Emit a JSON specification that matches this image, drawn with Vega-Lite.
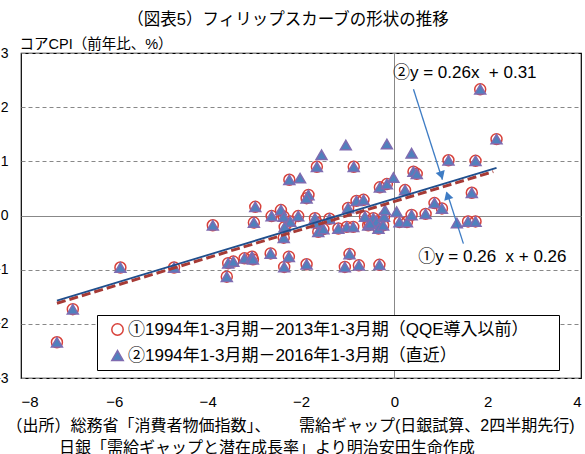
{
  "$schema": "https://vega.github.io/schema/vega-lite/v6.json",
  "width": 560,
  "height": 325,
  "autosize": {"type": "none"},
  "padding": {"left": 21, "top": 53, "right": 4, "bottom": 76},
  "background": "white",
  "config": {
    "font": "Liberation Sans, Noto Sans CJK JP",
    "view": {"stroke": "black", "strokeWidth": 1.2},
    "legend": {"symbolStrokeWidth": 1.5}
  },
  "title": {
    "text": "（図表5）フィリップスカーブの形状の推移",
    "fontSize": 16.5,
    "fontWeight": "normal",
    "color": "black",
    "anchor": "middle",
    "frame": "group",
    "dx": -13,
    "offset": 8
  },
  "encoding": {
    "x": {
      "field": "x",
      "type": "quantitative",
      "scale": {"domain": [-8, 4], "nice": false, "zero": false},
      "axis": {
        "values": [-8, -6, -4, -2, 0, 2, 4],
        "ticks": false,
        "domain": false,
        "labelFontSize": 15,
        "labelColor": "black",
        "labelPadding": 16,
        "grid": true,
        "gridColor": "#888888",
        "gridOpacity": {"condition": {"test": "datum.value === 0", "value": 1}, "value": 0},
        "title": ["（出所）総務省「消費者物価指数」、　　 需給ギャップ(日銀試算、2四半期先行)", "\u200b　　　 日銀「需給ギャップと潜在成長率」より明治安田生命作成"],
        "titleFontSize": 16,
        "titleFontWeight": "normal",
        "titleColor": "black",
        "titleAnchor": "start",
        "titleAlign": "left",
        "titleBaseline": "top",
        "titleX": -15,
        "titleY": 39,
        "titleLineHeight": 22
      }
    },
    "y": {
      "field": "y",
      "type": "quantitative",
      "scale": {"domain": [-3, 3], "nice": false, "zero": false},
      "axis": {
        "values": [-3, -2, -1, 0, 1, 2, 3],
        "ticks": false,
        "domain": false,
        "labelFontSize": 14,
        "labelColor": "black",
        "labelPadding": 13,
        "grid": true,
        "gridColor": "#888888",
        "gridDash": {"condition": {"test": "datum.value === 0", "value": []}, "value": [4, 3]},
        "title": "コアCPI（前年比、%）",
        "titleAngle": 0,
        "titleAlign": "left",
        "titleBaseline": "middle",
        "titleX": -2,
        "titleY": -9,
        "titleFontSize": 14.5,
        "titleFontWeight": "normal",
        "titleColor": "black"
      }
    }
  },
  "layer": [
    {
      "data": {"values": [
        {"s":"1","x":-7.23,"y":-2.34},{"s":"1","x":-6.89,"y":-1.73},{"s":"1","x":-5.87,"y":-0.96},{"s":"1","x":-4.72,"y":-0.96},
        {"s":"1","x":-3.89,"y":-0.18},{"s":"1","x":-3.59,"y":-1.13},{"s":"1","x":-3.56,"y":-0.88},{"s":"1","x":-3.45,"y":-0.85},
        {"s":"1","x":-3.21,"y":-0.79},{"s":"1","x":-3.05,"y":-0.76},{"s":"1","x":-3.03,"y":-0.81},{"s":"1","x":-2.98,"y":0.16},
        {"s":"1","x":-3.01,"y":-0.13},{"s":"1","x":-2.65,"y":-0.70},{"s":"1","x":-2.63,"y":-0.01},{"s":"1","x":-2.43,"y":0.10},
        {"s":"1","x":-2.37,"y":-0.02},{"s":"1","x":-2.23,"y":-0.11},{"s":"1","x":-2.35,"y":-0.21},{"s":"1","x":-2.37,"y":-0.41},
        {"s":"1","x":-2.26,"y":-0.76},{"s":"1","x":-2.36,"y":-0.95},{"s":"1","x":-2.25,"y":0.66},{"s":"1","x":-2.06,"y":-0.01},
        {"s":"1","x":-1.88,"y":-0.90},{"s":"1","x":-1.84,"y":0.38},{"s":"1","x":-1.88,"y":0.32},{"s":"1","x":-1.70,"y":-0.05},
        {"s":"1","x":-1.65,"y":-0.14},{"s":"1","x":-1.63,"y":-0.30},{"s":"1","x":-1.52,"y":-0.25},{"s":"1","x":-1.66,"y":0.90},
        {"s":"1","x":-1.39,"y":-0.06},{"s":"1","x":-1.20,"y":-0.24},{"s":"1","x":-1.02,"y":-0.21},{"s":"1","x":-0.99,"y":0.14},
        {"s":"1","x":-0.96,"y":-0.71},{"s":"1","x":-1.06,"y":-0.95},{"s":"1","x":-0.87,"y":0.90},{"s":"1","x":-0.88,"y":-0.21},
        {"s":"1","x":-0.81,"y":0.27},{"s":"1","x":-0.76,"y":-0.92},{"s":"1","x":-0.66,"y":0.29},{"s":"1","x":-0.63,"y":-0.02},
        {"s":"1","x":-0.56,"y":-0.18},{"s":"1","x":-0.45,"y":-0.05},{"s":"1","x":-0.38,"y":-0.11},{"s":"1","x":-0.34,"y":-0.24},
        {"s":"1","x":-0.32,"y":-0.91},{"s":"1","x":-0.31,"y":0.52},{"s":"1","x":-0.16,"y":0.58},{"s":"1","x":-0.22,"y":-0.02},
        {"s":"1","x":-0.52,"y":-0.15},{"s":"1","x":-0.24,"y":-0.18},
        {"s":"1","x":0.11,"y":-0.12},{"s":"1","x":0.27,"y":-0.12},{"s":"1","x":0.23,"y":0.47},{"s":"1","x":0.41,"y":0.81},
        {"s":"1","x":0.48,"y":0.77},{"s":"1","x":0.37,"y":0.01},{"s":"1","x":0.67,"y":0.03},{"s":"1","x":0.86,"y":0.23},
        {"s":"1","x":1.02,"y":0.13},{"s":"1","x":1.16,"y":1.02},{"s":"1","x":1.58,"y":-0.11},{"s":"1","x":1.74,"y":-0.11},
        {"s":"1","x":1.66,"y":0.42},{"s":"1","x":1.74,"y":1.01},{"s":"1","x":1.84,"y":2.33},{"s":"1","x":2.19,"y":1.41},
        {"s":"2","x":-7.23,"y":-2.34},{"s":"2","x":-6.89,"y":-1.73},{"s":"2","x":-5.87,"y":-0.96},{"s":"2","x":-4.72,"y":-0.96},
        {"s":"2","x":-3.89,"y":-0.18},{"s":"2","x":-3.59,"y":-1.13},{"s":"2","x":-3.56,"y":-0.88},{"s":"2","x":-3.45,"y":-0.85},
        {"s":"2","x":-3.21,"y":-0.79},{"s":"2","x":-3.05,"y":-0.76},{"s":"2","x":-3.03,"y":-0.81},{"s":"2","x":-2.98,"y":0.16},
        {"s":"2","x":-3.01,"y":-0.13},{"s":"2","x":-2.65,"y":-0.70},{"s":"2","x":-2.63,"y":-0.01},{"s":"2","x":-2.43,"y":0.10},
        {"s":"2","x":-2.37,"y":-0.02},{"s":"2","x":-2.23,"y":-0.11},{"s":"2","x":-2.35,"y":-0.21},{"s":"2","x":-2.37,"y":-0.41},
        {"s":"2","x":-2.26,"y":-0.76},{"s":"2","x":-2.36,"y":-0.95},{"s":"2","x":-2.25,"y":0.66},{"s":"2","x":-2.06,"y":-0.01},
        {"s":"2","x":-1.88,"y":-0.90},{"s":"2","x":-1.84,"y":0.38},{"s":"2","x":-1.88,"y":0.32},{"s":"2","x":-1.70,"y":-0.05},
        {"s":"2","x":-1.65,"y":-0.14},{"s":"2","x":-1.63,"y":-0.30},{"s":"2","x":-1.52,"y":-0.25},{"s":"2","x":-1.66,"y":0.90},
        {"s":"2","x":-1.39,"y":-0.06},{"s":"2","x":-1.20,"y":-0.24},{"s":"2","x":-1.02,"y":-0.21},{"s":"2","x":-0.99,"y":0.14},
        {"s":"2","x":-0.96,"y":-0.71},{"s":"2","x":-1.06,"y":-0.95},{"s":"2","x":-0.87,"y":0.90},{"s":"2","x":-0.88,"y":-0.21},
        {"s":"2","x":-0.81,"y":0.27},{"s":"2","x":-0.76,"y":-0.92},{"s":"2","x":-0.66,"y":0.29},{"s":"2","x":-0.63,"y":-0.02},
        {"s":"2","x":-0.56,"y":-0.18},{"s":"2","x":-0.45,"y":-0.05},{"s":"2","x":-0.38,"y":-0.11},{"s":"2","x":-0.34,"y":-0.24},
        {"s":"2","x":-0.32,"y":-0.91},{"s":"2","x":-0.31,"y":0.52},{"s":"2","x":-0.16,"y":0.58},{"s":"2","x":-0.22,"y":-0.02},
        {"s":"2","x":-0.52,"y":-0.15},{"s":"2","x":-0.24,"y":-0.18},
        {"s":"2","x":0.11,"y":-0.12},{"s":"2","x":0.27,"y":-0.12},{"s":"2","x":0.23,"y":0.47},{"s":"2","x":0.41,"y":0.81},
        {"s":"2","x":0.48,"y":0.77},{"s":"2","x":0.37,"y":0.01},{"s":"2","x":0.67,"y":0.03},{"s":"2","x":0.86,"y":0.23},
        {"s":"2","x":1.02,"y":0.13},{"s":"2","x":1.16,"y":1.02},{"s":"2","x":1.58,"y":-0.11},{"s":"2","x":1.74,"y":-0.11},
        {"s":"2","x":1.66,"y":0.42},{"s":"2","x":1.74,"y":1.01},{"s":"2","x":1.84,"y":2.33},{"s":"2","x":2.19,"y":1.41},
        {"s":"2","x":-2.02,"y":0.69},{"s":"2","x":-1.56,"y":1.12},{"s":"2","x":-1.04,"y":1.30},{"s":"2","x":-0.16,"y":1.32},
        {"s":"2","x":-0.20,"y":0.10},{"s":"2","x":-0.02,"y":0.70},{"s":"2","x":0.05,"y":0.07},{"s":"2","x":0.37,"y":1.15},
        {"s":"2","x":1.34,"y":-0.14}
      ]},
      "mark": {"type": "point", "filled": true, "size": 120, "strokeWidth": 1.5, "opacity": 1},
      "encoding": {
        "shape": {"field": "s", "type": "nominal", "scale": {"domain": ["1", "2"], "range": ["circle", "triangle-up"]},
          "legend": {"title": null, "orient": "none", "legendX": 76, "legendY": 262, "fillColor": "white", "strokeColor": "black", "padding": 6, "labelFontSize": 17, "labelColor": "black", "rowPadding": 7, "symbolSize": 130, "symbolOffset": 6, "labelLimit": 700, "labelOffset": 2,
            "labelExpr": "datum.label == '1' ? '①1994年1-3月期－2013年1-3月期（QQE導入以前）⠀⠀' : '②1994年1-3月期－2016年1-3月期（直近）'"}},
        "fill": {"field": "s", "type": "nominal", "scale": {"domain": ["1", "2"], "range": ["transparent", "#4F81BD"]},
          "legend": {"title": null, "orient": "none", "legendX": 76, "legendY": 262, "fillColor": "white", "strokeColor": "black", "padding": 6, "labelFontSize": 17, "labelColor": "black", "rowPadding": 7, "symbolSize": 130, "symbolOffset": 6, "labelLimit": 700, "labelOffset": 2,
            "labelExpr": "datum.label == '1' ? '①1994年1-3月期－2013年1-3月期（QQE導入以前）⠀⠀' : '②1994年1-3月期－2016年1-3月期（直近）'"}},
        "stroke": {"field": "s", "type": "nominal", "scale": {"domain": ["1", "2"], "range": ["#D8413A", "#7F6BB0"]},
          "legend": {"title": null, "orient": "none", "legendX": 76, "legendY": 262, "fillColor": "white", "strokeColor": "black", "padding": 6, "labelFontSize": 17, "labelColor": "black", "rowPadding": 7, "symbolSize": 130, "symbolOffset": 6, "labelLimit": 700, "labelOffset": 2,
            "labelExpr": "datum.label == '1' ? '①1994年1-3月期－2013年1-3月期（QQE導入以前）⠀⠀' : '②1994年1-3月期－2016年1-3月期（直近）'"}}
      }
    },
    {
      "data": {"values": [{"x": -7.23, "y": -1.62}, {"x": 2.12, "y": 0.81}]},
      "mark": {"type": "line", "color": "#A63A35", "strokeWidth": 3, "strokeDash": [9, 4]}
    },
    {
      "data": {"values": [{"x": -7.23, "y": -1.57}, {"x": 2.19, "y": 0.88}]},
      "mark": {"type": "line", "color": "#1F4E8C", "strokeWidth": 1.8}
    },
    {
      "data": {"values": [{"x": 0.41, "y": 2.33, "x2": 1.03, "y2": 0.66}, {"x": 1.48, "y": -0.52, "x2": 1.13, "y2": 0.42}]},
      "mark": {"type": "rule", "color": "#3E7CC4", "strokeWidth": 1.3},
      "encoding": {"x2": {"field": "x2"}, "y2": {"field": "y2"}}
    },
    {
      "data": {"values": [{"x": 1.01, "y": 0.74}]},
      "mark": {"type": "point", "shape": "triangle-up", "angle": 162, "filled": true, "size": 90, "color": "#3E7CC4", "opacity": 1}
    },
    {
      "data": {"values": [{"x": 1.14, "y": 0.37}]},
      "mark": {"type": "point", "shape": "triangle-up", "angle": 342, "filled": true, "size": 90, "color": "#3E7CC4", "opacity": 1}
    },
    {
      "data": {"values": [{"x": -0.03, "y": 2.63, "t": "②y = 0.26x\u00a0 + 0.31"}, {"x": 0.51, "y": -0.77, "t": "①y = 0.26\u00a0 x + 0.26"}]},
      "mark": {"type": "text", "align": "left", "baseline": "middle", "fontSize": 17, "color": "black"},
      "encoding": {"text": {"field": "t"}}
    }
  ]
}
